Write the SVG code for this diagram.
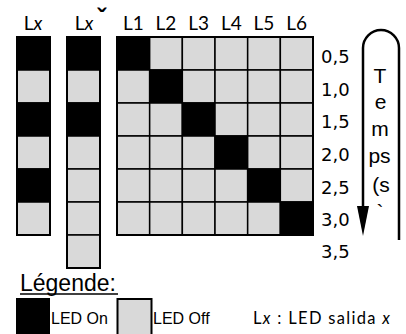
<svg xmlns="http://www.w3.org/2000/svg" width="406" height="334" viewBox="0 0 406 334">
<style>
.on{fill:#000;stroke:#000;stroke-width:1.5}
.off{fill:#d9d9d9;stroke:#000;stroke-width:1.5}
.frame{fill:none;stroke:#000;stroke-width:2}
.hdr{font-family:Lato,"Open Sans",sans-serif;font-size:19px;fill:#000;text-anchor:middle}
.tm{font-family:"DejaVu Sans",sans-serif;font-size:18px;fill:#000}
.vt{font-family:"Liberation Sans",Arial,sans-serif;font-size:21px;fill:#000;text-anchor:middle}
.lg{font-family:"Liberation Sans",Arial,sans-serif;font-size:16px;fill:#000}
</style>
<g id="column-lx">
<text class="hdr" x="33" y="30">L<tspan font-style="italic">x</tspan></text>
<rect class="on" x="17" y="37" width="33" height="33"/>
<rect class="off" x="17" y="70" width="33" height="33"/>
<rect class="on" x="17" y="103" width="33" height="33"/>
<rect class="off" x="17" y="136" width="33" height="33"/>
<rect class="on" x="17" y="169" width="33" height="33"/>
<rect class="off" x="17" y="202" width="33" height="33"/>
<rect class="frame" x="17" y="37" width="33" height="198"/>
</g>
<g id="column-lx-bar">
<text class="hdr" x="84" y="30">L<tspan font-style="italic">x</tspan></text>
<text x="101.5" y="27" font-family="Liberation Sans, Arial, sans-serif" font-size="26" font-weight="bold" text-anchor="middle" fill="#000">ˇ</text>
<rect class="on" x="67" y="37" width="33" height="33"/>
<rect class="off" x="67" y="70" width="33" height="33"/>
<rect class="on" x="67" y="103" width="33" height="33"/>
<rect class="off" x="67" y="136" width="33" height="33"/>
<rect class="off" x="67" y="169" width="33" height="33"/>
<rect class="off" x="67" y="202" width="33" height="33"/>
<rect class="off" x="67" y="235" width="33" height="33"/>
<rect class="frame" x="67" y="37" width="33" height="231"/>
</g>
<g id="matrix">
<text class="hdr" x="133.3" y="30">L1</text>
<text class="hdr" x="166" y="30">L2</text>
<text class="hdr" x="198.7" y="30">L3</text>
<text class="hdr" x="231.3" y="30">L4</text>
<text class="hdr" x="264" y="30">L5</text>
<text class="hdr" x="296.7" y="30">L6</text>
<g>
<rect class="on" x="117" y="37" width="32.67" height="33"/><rect class="off" x="149.67" y="37" width="32.67" height="33"/><rect class="off" x="182.33" y="37" width="32.67" height="33"/><rect class="off" x="215" y="37" width="32.67" height="33"/><rect class="off" x="247.67" y="37" width="32.67" height="33"/><rect class="off" x="280.33" y="37" width="32.67" height="33"/>
<rect class="off" x="117" y="70" width="32.67" height="33"/><rect class="on" x="149.67" y="70" width="32.67" height="33"/><rect class="off" x="182.33" y="70" width="32.67" height="33"/><rect class="off" x="215" y="70" width="32.67" height="33"/><rect class="off" x="247.67" y="70" width="32.67" height="33"/><rect class="off" x="280.33" y="70" width="32.67" height="33"/>
<rect class="off" x="117" y="103" width="32.67" height="33"/><rect class="off" x="149.67" y="103" width="32.67" height="33"/><rect class="on" x="182.33" y="103" width="32.67" height="33"/><rect class="off" x="215" y="103" width="32.67" height="33"/><rect class="off" x="247.67" y="103" width="32.67" height="33"/><rect class="off" x="280.33" y="103" width="32.67" height="33"/>
<rect class="off" x="117" y="136" width="32.67" height="33"/><rect class="off" x="149.67" y="136" width="32.67" height="33"/><rect class="off" x="182.33" y="136" width="32.67" height="33"/><rect class="on" x="215" y="136" width="32.67" height="33"/><rect class="off" x="247.67" y="136" width="32.67" height="33"/><rect class="off" x="280.33" y="136" width="32.67" height="33"/>
<rect class="off" x="117" y="169" width="32.67" height="33"/><rect class="off" x="149.67" y="169" width="32.67" height="33"/><rect class="off" x="182.33" y="169" width="32.67" height="33"/><rect class="off" x="215" y="169" width="32.67" height="33"/><rect class="on" x="247.67" y="169" width="32.67" height="33"/><rect class="off" x="280.33" y="169" width="32.67" height="33"/>
<rect class="off" x="117" y="202" width="32.67" height="33"/><rect class="off" x="149.67" y="202" width="32.67" height="33"/><rect class="off" x="182.33" y="202" width="32.67" height="33"/><rect class="off" x="215" y="202" width="32.67" height="33"/><rect class="off" x="247.67" y="202" width="32.67" height="33"/><rect class="on" x="280.33" y="202" width="32.67" height="33"/>
</g>
<rect class="frame" x="117" y="37" width="196" height="198"/>
</g>
<g id="time-labels">
<text class="tm" x="321" y="63">0,5</text>
<text class="tm" x="321" y="95.5">1,0</text>
<text class="tm" x="321" y="128">1,5</text>
<text class="tm" x="321" y="161">2,0</text>
<text class="tm" x="321" y="194">2,5</text>
<text class="tm" x="321" y="226">3,0</text>
<text class="tm" x="321" y="258">3,5</text>
</g>
<g id="connectors">
<path d="M363,208 L363,48 A18,18 0 0 1 399,48 L399,240" fill="none" stroke="#000" stroke-width="2.5"/>
<polygon points="357,206 369,206 363,236" fill="#000"/>
</g>
<g id="time-axis-label">
<text class="vt" x="380" y="83">T</text>
<text class="vt" x="380.5" y="109">e</text>
<text class="vt" x="380" y="136">m</text>
<text class="vt" x="379.5" y="163">ps</text>
<text class="vt" x="381" y="192">(s</text>
<text class="vt" x="380" y="219">`</text>
</g>
<g id="legend">
<text x="20" y="291" font-family="Liberation Sans, Arial, sans-serif" font-size="23" fill="#000">Légende:</text>
<line x1="20" y1="294" x2="118" y2="294" stroke="#000" stroke-width="1.5"/>
<rect x="16" y="298" width="34" height="37" fill="#000"/>
<text class="lg" x="51" y="324">LED On</text>
<rect x="117.5" y="299" width="34" height="37" fill="#d9d9d9" stroke="#000" stroke-width="2"/>
<text class="lg" x="153" y="324">LED Off</text>
<text x="253" y="324" font-family="Lato, 'Open Sans', sans-serif" font-size="16.5" fill="#000" textLength="137" lengthAdjust="spacing">L<tspan font-style="italic">x</tspan> : LED salida <tspan font-style="italic">x</tspan></text>
</g>
</svg>
